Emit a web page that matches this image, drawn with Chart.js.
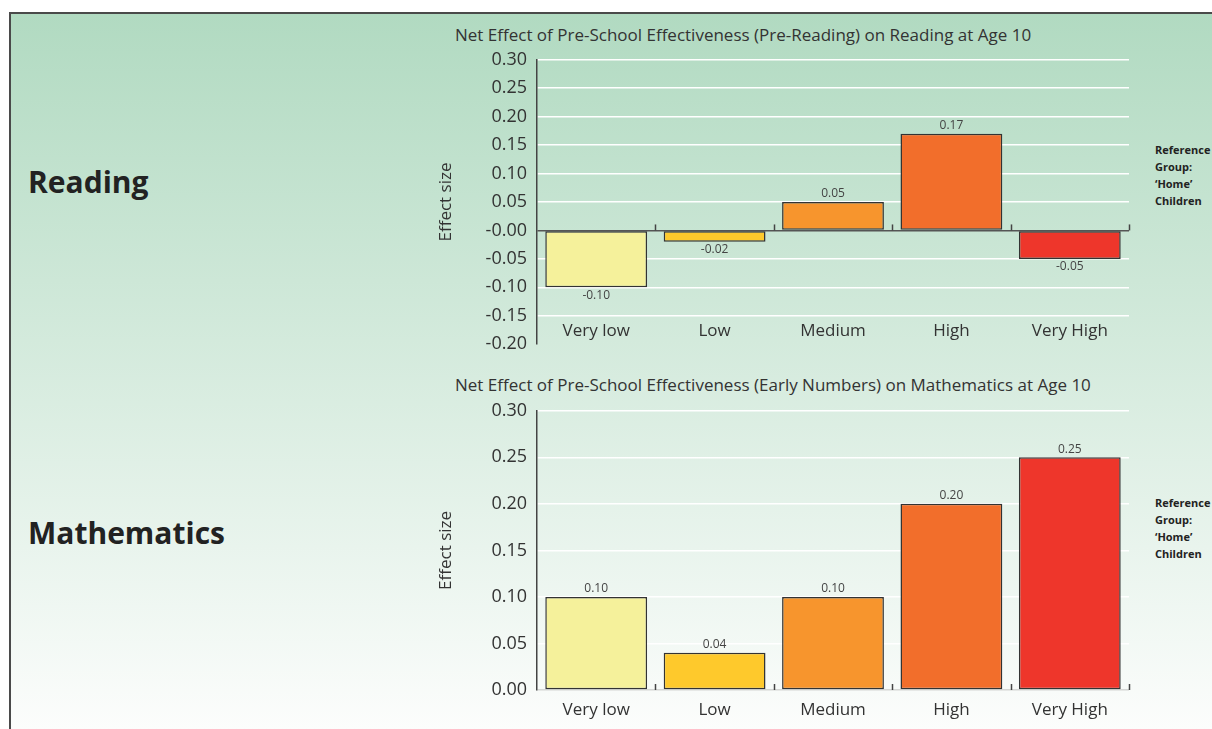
<!DOCTYPE html>
<html><head><meta charset="utf-8">
<script src="https://cdn.jsdelivr.net/npm/chart.js@4.4.1/dist/chart.umd.min.js"></script>
<style>
html,body{margin:0;padding:0;background:#fff;width:1212px;height:729px;overflow:hidden;font-family:"Open Sans",sans-serif;}
#frame{position:absolute;left:9px;top:12px;width:1240px;height:717px;border-top:2px solid #4a4a4a;border-left:2px solid #4a4a4a;background:linear-gradient(to bottom,#b1dac1 0%,#fcfdfc 100%);box-sizing:border-box;}
.subject{position:absolute;left:28px;font-weight:bold;font-size:30px;line-height:36px;color:#222;white-space:nowrap;}
.ref{position:absolute;left:1155px;font-weight:bold;font-size:11px;line-height:17px;color:#222;white-space:nowrap;}
.title{position:absolute;left:455px;font-size:17px;line-height:20px;color:#333;white-space:nowrap;}
canvas{position:absolute;}
</style></head>
<body>
<div id="frame"></div>
<div class="subject" style="top:164px">Reading</div>
<div class="subject" style="top:515px">Mathematics</div>
<div class="ref" style="top:141px">Reference<br>Group:<br>‘Home’<br>Children</div>
<div class="ref" style="top:494px">Reference<br>Group:<br>‘Home’<br>Children</div>
<div class="title" style="top:25px">Net Effect of Pre-School Effectiveness (Pre-Reading) on Reading at Age 10</div>
<div class="title" style="top:375px">Net Effect of Pre-School Effectiveness (Early Numbers) on Mathematics at Age 10</div>
<canvas id="c1" width="713" height="326" style="left:420px;top:39px"></canvas>
<canvas id="c2" width="713" height="332" style="left:420px;top:390px"></canvas>
<script>
const categories = ["Very low", "Low", "Medium", "High", "Very High"];
const readingValues = [-0.10, -0.02, 0.05, 0.17, -0.05];
const mathValues = [0.10, 0.04, 0.10, 0.20, 0.25];
const readingTickLabels = ["-0.20", "-0.15", "-0.10", "-0.05", "-0.00", "0.05", "0.10", "0.15", "0.20", "0.25", "0.30"];
const mathTickLabels = ["0.00", "0.05", "0.10", "0.15", "0.20", "0.25", "0.30"];
const barColors = ["#f5f19b", "#fec92c", "#f7952d", "#f26e2b", "#ee362b"];
const axisTitle = "Effect size";

Chart.defaults.font.family = '"Open Sans", sans-serif';
Chart.defaults.color = '#333';

const boundaryTicks = {
  id: 'boundaryTicks',
  afterDatasetsDraw(chart, args, opts) {
    const x = chart.scales.x, y = chart.scales.y, ctx = chart.ctx;
    const y0 = y.getPixelForValue(0);
    const half = (x.getPixelForValue(1) - x.getPixelForValue(0)) / 2;
    ctx.save();
    ctx.strokeStyle = opts.color || '#444';
    ctx.lineWidth = 1.5;
    for (let i = 1; i <= chart.data.labels.length; i++) {
      const px = Math.round(x.getPixelForValue(i) - half) + 0.5;
      ctx.beginPath(); ctx.moveTo(px, y0); ctx.lineTo(px, y0 - (opts.len || 6)); ctx.stroke();
    }
    ctx.restore();
  }
};
const valueLabels = {
  id: 'valueLabels',
  afterDatasetsDraw(chart) {
    const ctx = chart.ctx, meta = chart.getDatasetMeta(0), data = chart.data.datasets[0].data;
    ctx.save();
    ctx.font = '12px "Open Sans", sans-serif';
    ctx.fillStyle = '#444';
    ctx.textAlign = 'center';
    meta.data.forEach((bar, i) => {
      const v = data[i];
      if (v >= 0) { ctx.textBaseline = 'bottom'; ctx.fillText(v.toFixed(2), bar.x, bar.y - 2); }
      else { ctx.textBaseline = 'top'; ctx.fillText(v.toFixed(2), bar.x, bar.y + 2); }
    });
    ctx.restore();
  }
};

function makeChart(id, values, min, max, tickLabels, zeroColor, xAxisPos, xPad, xHeight) {
  const xScale = {
    position: xAxisPos,
    grid: { display: false, drawTicks: false },
    border: { display: false },
    ticks: { font: { size: 17 }, color: '#333', padding: xPad, maxRotation: 0 }
  };
  if (xHeight) xScale.afterFit = s => { s.height = xHeight; };
  return new Chart(document.getElementById(id), {
    type: 'bar',
    data: { labels: categories, datasets: [{ data: values, backgroundColor: barColors, borderColor: '#333', borderWidth: 1.5, borderSkipped: false, categoryPercentage: 1, barPercentage: 0.86 }] },
    options: {
      responsive: false, animation: false,
      layout: { padding: { top: 4, right: 4, left: 0, bottom: 0 } },
      plugins: { legend: { display: false }, tooltip: { enabled: false }, boundaryTicks: { color: '#444', len: 6 } },
      scales: {
        x: xScale,
        y: {
          min: min, max: max,
          ticks: { stepSize: 0.05, font: { size: 18 }, color: '#333', padding: 10, callback: (v, i) => tickLabels[i] },
          grid: { drawTicks: false, lineWidth: 1.5, color: c => Math.abs(c.tick.value) < 1e-9 ? zeroColor : (Math.abs(c.tick.value - min) < 1e-9 && min < 0 ? 'rgba(0,0,0,0)' : '#ffffff') },
          border: { display: true, color: '#444', width: 1.5 },
          title: { display: true, text: axisTitle, font: { size: 17 }, color: '#333', padding: { top: 16, bottom: 0 } },
          afterFit: s => { s.width = 117; }
        }
      }
    },
    plugins: [boundaryTicks, valueLabels]
  });
}
makeChart('c1', readingValues, -0.20, 0.30, readingTickLabels, '#555', { y: -0.15 }, 5, 0);
makeChart('c2', mathValues, 0, 0.30, mathTickLabels, '#d4d6d4', 'bottom', 10, 32);
</script>
</body></html>
